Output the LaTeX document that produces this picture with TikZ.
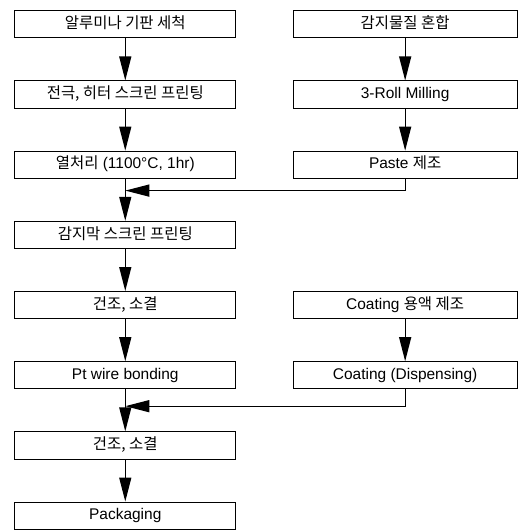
\documentclass[tikz,border=0pt]{standalone}
\usepackage{fontspec}
\setmainfont{Liberation Sans}
\newfontfamily\kr{Noto Sans CJK KR}
\usetikzlibrary{matrix,positioning,arrows.meta,calc}

\begin{document}
\begin{tikzpicture}[thin,pmat/.style={matrix of nodes,
      row sep=1.05cm,column sep=1.41cm,inner sep=0pt,
      nodes={draw,rectangle,line width=0.7pt,inner sep=2pt,minimum height=0.68cm,
        text height=8pt,text depth=2pt,font=\fontsize{11}{13}\selectfont},
      column 1/.style={nodes={minimum width=5.525cm}},
      column 2/.style={nodes={minimum width=5.6cm}}},
      flow/.style={line width=0.9pt,-{Triangle[length=0.6cm,width=0.3cm]}}]

     \useasboundingbox (0,0) rectangle (13.025,-13.275);

     \matrix[pmat,anchor=north west] (proc) at (0.35,-0.25) {
     {\kr 알루미나 기판 세척} & {\kr 감지물질 혼합} \\
     {\kr 전극, 히터 스크린 프린팅} & 3-Roll Milling \\
     {\kr 열처리} (1100°C, 1hr) & Paste {\kr 제조} \\
     {\kr 감지막 스크린 프린팅} & \\
     {\kr 건조, 소결} & Coating {\kr 용액 제조} \\
     Pt wire bonding & Coating (Dispensing) \\
     {\kr 건조, 소결} & \\
     Packaging & \\};

     \coordinate (j1) at ($(proc-3-1.south)!0.28!(proc-4-1.north)$);
     \coordinate (j2) at ($(proc-6-1.south)!0.4!(proc-7-1.north)$);

     \draw[flow] (proc-1-1) edge (proc-2-1)
            (proc-2-1) edge (proc-3-1)
            (proc-3-1) edge (proc-4-1)
            (proc-4-1) edge (proc-5-1)
            (proc-5-1) edge (proc-6-1)
            (proc-6-1) edge (proc-7-1)
            (proc-7-1) edge (proc-8-1)
            (proc-1-2) edge (proc-2-2)
            (proc-2-2) edge (proc-3-2)
            (proc-5-2) edge (proc-6-2);

     \draw[flow] (proc-3-2.south) |- (j1);
     \draw[flow] (proc-6-2.south) |- (j2);

    \end{tikzpicture}
\end{document}
